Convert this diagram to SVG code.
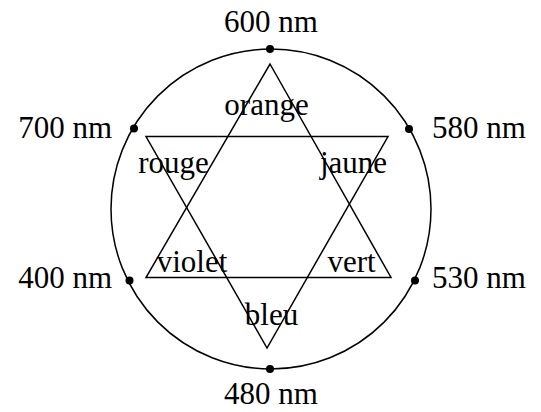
<svg xmlns="http://www.w3.org/2000/svg" width="541" height="412" viewBox="0 0 541 412">
<style>
text{font-family:"Liberation Serif","Times New Roman",serif;font-size:31px;fill:#000}
.ln{fill:none;stroke:#000;stroke-width:1.5}
.dot{fill:#000}
</style>
<rect width="541" height="412" fill="#fff"/>
<g id="connectors">
<circle class="ln" cx="271" cy="209" r="160"/>
<polygon class="ln" points="270,64 391,277.5 146,277.5"/>
<polygon class="ln" points="146,136.5 388,136.5 267,348"/>
</g>
<g id="n600"><circle class="dot" cx="270" cy="49" r="4"/><text x="271" y="32" text-anchor="middle">600 nm</text></g>
<g id="n580"><circle class="dot" cx="409" cy="129" r="4"/><text x="432" y="138">580 nm</text></g>
<g id="n530"><circle class="dot" cx="415" cy="280.5" r="4"/><text x="432" y="288">530 nm</text></g>
<g id="n480"><circle class="dot" cx="270" cy="369" r="4"/><text x="271" y="404" text-anchor="middle">480 nm</text></g>
<g id="n400"><circle class="dot" cx="129.5" cy="280.5" r="4"/><text x="112" y="288" text-anchor="end">400 nm</text></g>
<g id="n700"><circle class="dot" cx="134" cy="128.5" r="4"/><text x="112" y="138" text-anchor="end">700 nm</text></g>
<g id="orange"><text x="266.5" y="115" text-anchor="middle">orange</text></g>
<g id="jaune"><text x="353.5" y="172.5" text-anchor="middle">jaune</text></g>
<g id="vert"><text x="351.5" y="272" text-anchor="middle">vert</text></g>
<g id="bleu"><text x="271.5" y="325" text-anchor="middle">bleu</text></g>
<g id="violet"><text x="192" y="272" text-anchor="middle">violet</text></g>
<g id="rouge"><text x="173.5" y="172.5" text-anchor="middle">rouge</text></g>
</svg>
